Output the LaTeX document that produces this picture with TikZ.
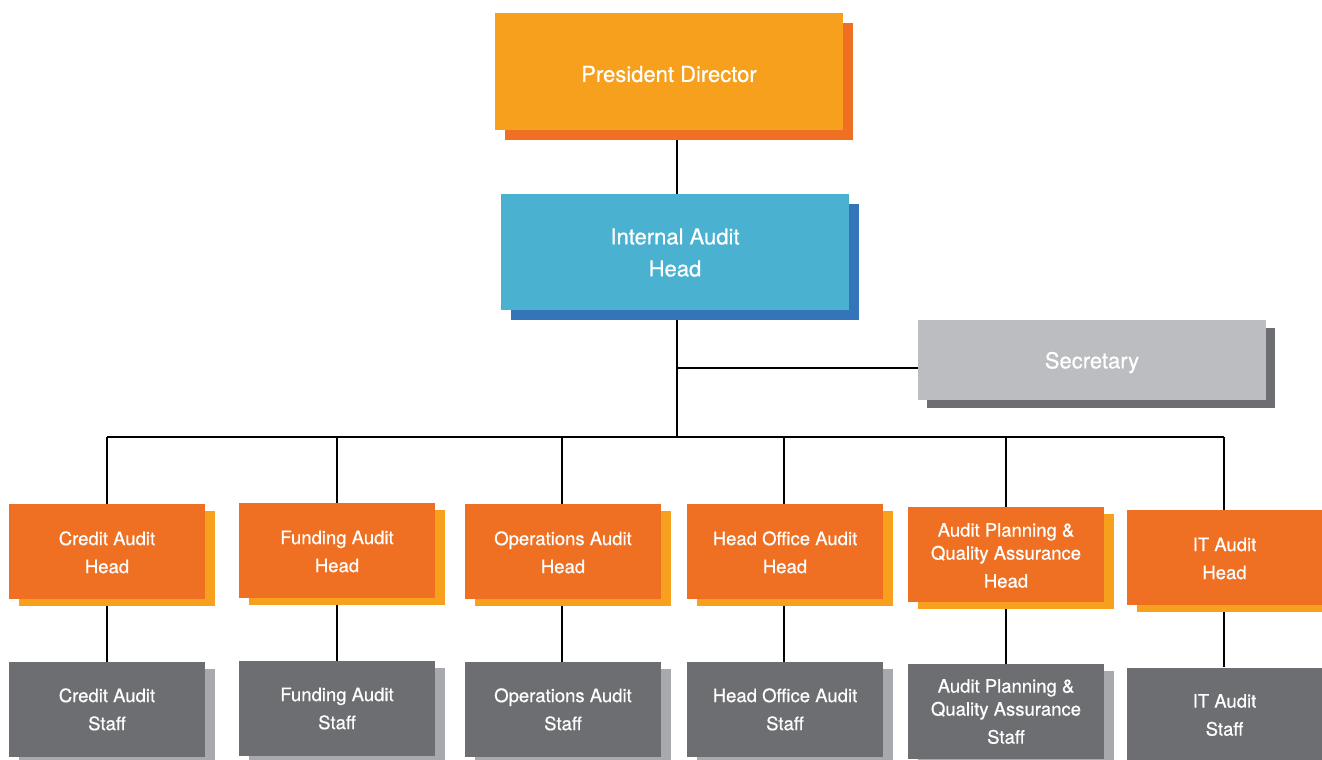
\documentclass[tikz,border=0pt]{standalone}
\usepackage{fontspec}
\setmainfont{TeX Gyre Heros}[FakeBold=0.6]
\usetikzlibrary{shadows,backgrounds}

\definecolor{amber}{HTML}{F7A01E}
\definecolor{tangerine}{HTML}{F07023}
\definecolor{sky}{HTML}{4AB1D1}
\definecolor{ocean}{HTML}{3475BA}
\definecolor{silver}{HTML}{BCBDC0}
\definecolor{slate}{HTML}{6D6E71}
\definecolor{ash}{HTML}{A7A9AC}

% lower a block of centred lines inside its box, keeping the box size
\newcommand{\lowered}[2]{\raisebox{-#1}[\height][\depth]{\begin{tabular}{@{}c@{}}#2\end{tabular}}}

\tikzset{
  box/.style={inner sep=0pt, align=center, text=white},
  topbox/.style={box, minimum width=348pt, font=\fontsize{22}{32}\selectfont},
  unitbox/.style={box, minimum width=196pt, minimum height=95pt, font=\fontsize{18.5}{28}\selectfont},
  presbox/.style={topbox, minimum height=117pt, fill=amber,
    drop shadow={shadow xshift=10pt, shadow yshift=-10pt, fill=tangerine, opacity=1}},
  iabox/.style={topbox, minimum height=116pt, fill=sky,
    drop shadow={shadow xshift=10pt, shadow yshift=-10pt, fill=ocean, opacity=1}},
  secbox/.style={topbox, minimum height=80pt, fill=silver,
    drop shadow={shadow xshift=9pt, shadow yshift=-8pt, fill=slate, opacity=1}},
  headbox/.style={unitbox, fill=tangerine,
    drop shadow={shadow xshift=10pt, shadow yshift=-7pt, fill=amber, opacity=1}},
  staffbox/.style={unitbox, fill=slate,
    drop shadow={shadow xshift=10pt, shadow yshift=-7pt, fill=ash, opacity=1}},
  link/.style={draw=black, line width=2pt}
}

\begin{document}
\begin{tikzpicture}[x=1pt, y=-1pt]
\useasboundingbox (0,0) rectangle (1322,760);

% top of the chart
\node[presbox] (pres) at (669,71.5) {\lowered{4pt}{President Director}};
\node[iabox]   (ia)   at (675,252)  {\lowered{2pt}{Internal Audit\\Head}};
\node[secbox]  (sec)  at (1092,360) {\lowered{2pt}{Secretary}};

% audit units: heads
\node[headbox] (h1) at (107,551.5)  {\lowered{2pt}{Credit Audit\\Head}};
\node[headbox] (h2) at (337,550.5)  {\lowered{2pt}{Funding Audit\\Head}};
\node[headbox] (h3) at (563,551.5)  {\lowered{2pt}{Operations Audit\\Head}};
\node[headbox] (h4) at (785,551.5)  {\lowered{2pt}{Head Office Audit\\Head}};
\node[headbox] (h5) at (1006,554.5) {\lowered{2pt}{Audit Planning \&\\[-5pt]Quality Assurance\\Head}};
\node[headbox] (h6) at (1224.5,557.5) {\lowered{2pt}{IT Audit\\Head}};

% audit units: staff
\node[staffbox] (s1) at (107,709.5)  {\lowered{1pt}{Credit Audit\\Staff}};
\node[staffbox] (s2) at (337,708.5)  {\lowered{1pt}{Funding Audit\\Staff}};
\node[staffbox] (s3) at (563,709.5)  {\lowered{1pt}{Operations Audit\\Staff}};
\node[staffbox] (s4) at (785,709.5)  {\lowered{1pt}{Head Office Audit\\Staff}};
\node[staffbox] (s5) at (1006,711.5) {\lowered{1pt}{Audit Planning \&\\[-5pt]Quality Assurance\\Staff}};
\node[staffbox] (s6) at (1224.5,715) {\lowered{1pt}{IT Audit\\Staff}};

% junction points of the trunk line
\coordinate (trunk) at (677,0);
\coordinate (secj)  at (677,368);
\coordinate (bus)   at (677,437);
\coordinate (busl)  at (107,437);
\coordinate (busr)  at (1224,437);

\begin{scope}[on background layer]
  \draw[link] (pres.south -| trunk) -- (ia.north -| trunk);
  \draw[link] (ia.south -| trunk) -- (bus);
  \draw[link] (secj) -- (secj -| sec.west);
  \draw[link] (busl) -- (busr);
  \foreach \i/\c in {1/107,2/337,3/562,4/784,5/1006,6/1224} {
    \draw[link] (\c,437) -- (h\i.north -| \c,0);
    \draw[link] (h\i.south -| \c,0) -- (s\i.north -| \c,0);
  }
\end{scope}
\end{tikzpicture}
\end{document}
